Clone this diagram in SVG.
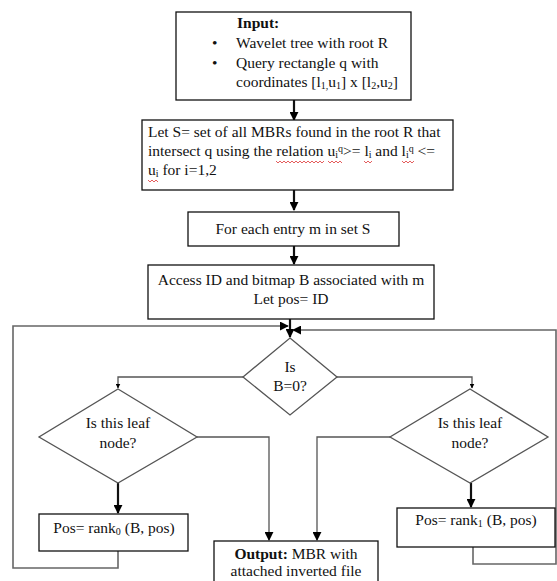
<svg xmlns="http://www.w3.org/2000/svg" width="557" height="581" viewBox="0 0 557 581">
<defs>
<marker id="ah" viewBox="0 0 10 10" refX="9" refY="5" markerWidth="5" markerHeight="5" orient="auto" markerUnits="userSpaceOnUse"><path d="M0,0 L10,5 L0,10 z" fill="#000"/></marker>
<marker id="ahb" viewBox="0 0 10 10" refX="9" refY="5" markerWidth="9" markerHeight="9" orient="auto" markerUnits="userSpaceOnUse"><path d="M0,0 L10,5 L0,10 z" fill="#000"/></marker>
</defs>
<style>
text{font-family:"Liberation Serif","Times New Roman",serif;font-size:15.5px;fill:#111}
.box{fill:#fff;stroke:#111;stroke-width:1.3}
.dia{fill:#fff;stroke:#555;stroke-width:1.3}
.c{fill:none;stroke:#555;stroke-width:1.3}
.main{fill:none;stroke:#111;stroke-width:2.2}
.loop{fill:none;stroke:#666;stroke-width:1.6}
.sq{fill:none;stroke:#d33;stroke-width:0.8}
.sub{font-size:10px}
.m{text-anchor:middle}
</style>
<g id="connectors">
<line class="main" x1="294" y1="100" x2="294" y2="120" marker-end="url(#ahb)"/>
<line class="main" x1="294" y1="190" x2="294" y2="210" marker-end="url(#ahb)"/>
<line class="main" x1="294" y1="245" x2="294" y2="264" marker-end="url(#ahb)"/>
<line class="main" x1="290" y1="319" x2="290" y2="337" marker-end="url(#ahb)"/>
<polyline class="loop" points="118,551 118,568 13,568 13,326 288,326" marker-end="url(#ahb)"/>
<polyline class="loop" points="473,547 473,564 556,564 556,330 293,330" marker-end="url(#ahb)"/>
<polyline class="c" points="243,377 118,377 118,388" marker-end="url(#ah)"/>
<polyline class="c" points="337,377 472,377 472,388" marker-end="url(#ah)"/>
<line class="main" x1="118" y1="483" x2="118" y2="513" stroke-width="1.4" marker-end="url(#ahb)"/>
<line class="main" x1="471" y1="483" x2="471" y2="507" stroke-width="1.4" marker-end="url(#ahb)"/>
<polyline class="c" points="197,437 269,437 269,540" stroke="#333" marker-end="url(#ahb)"/>
<polyline class="c" points="390,437 317,437 317,540" stroke="#333" marker-end="url(#ahb)"/>
</g>
<g id="input">
<rect class="box" x="176" y="12" width="235" height="88"/>
<text x="237" y="28" font-weight="bold">Input:</text>
<text x="212" y="48">•</text>
<text x="236" y="48">Wavelet tree with root R</text>
<text x="212" y="68">•</text>
<text x="236" y="68">Query rectangle q with</text>
<text x="236" y="87">coordinates [l<tspan class="sub" dy="2">1,</tspan><tspan dy="-2">u</tspan><tspan class="sub" dy="2">1</tspan><tspan dy="-2">] x [l</tspan><tspan class="sub" dy="2">2</tspan><tspan dy="-2">,u</tspan><tspan class="sub" dy="2">2</tspan><tspan dy="-2">]</tspan></text>
</g>
<g id="let-s">
<rect class="box" x="142" y="120" width="311" height="70"/>
<text x="148" y="137">Let S= set of all MBRs found in the root R that</text>
<text x="148" y="156">intersect q using the relation  u<tspan class="sub" dy="2">i</tspan><tspan class="sub" dy="-6">q</tspan><tspan dy="4">&gt;= l</tspan><tspan class="sub" dy="2">i</tspan><tspan dy="-2"> and l</tspan><tspan class="sub" dy="2">i</tspan><tspan class="sub" dy="-6">q</tspan><tspan dy="4"> &lt;=</tspan></text>
<text x="148" y="175">u<tspan class="sub" dy="2">i</tspan><tspan dy="-2"> for i=1,2</tspan></text>
<path class="sq" d="M276,161 l2,2 l2,-2 l2,2 l2,-2 l2,2 l2,-2 l2,2 l2,-2 l2,2 l2,-2 l2,2 l2,-2 l2,2 l2,-2 l2,2 l2,-2 l2,2 l2,-2 l2,2 l2,-2 l2,2 l2,-2 l2,2 l2,-2 M328,161 l2,2 l2,-2 l2,2 l2,-2 l2,2 l2,-2 l2,2 M364,161 l2,2 l2,-2 l2,2 l2,-2 M402,161 l2,2 l2,-2 l2,2 l2,-2 l2,2 l2,-2 M148,180 l2,2 l2,-2 l2,2 l2,-2 l2,2"/>
</g>
<g id="for-each">
<rect class="box" x="188" y="212" width="211" height="34"/>
<text class="m" x="293" y="234">For each entry m in set S</text>
</g>
<g id="access">
<rect class="box" x="148" y="265" width="286" height="54"/>
<text class="m" x="291" y="285">Access ID and bitmap B associated with m</text>
<text class="m" x="291" y="304">Let pos= ID</text>
</g>
<g id="is-b0">
<polygon class="dia" points="290,338 337,377 290,415 243,377"/>
<text class="m" x="290" y="372">Is</text>
<text class="m" x="290" y="391">B=0?</text>
</g>
<g id="leaf-left">
<polygon class="dia" points="118,389 197,437 118,483 39,437"/>
<text class="m" x="118" y="428">Is this leaf</text>
<text class="m" x="118" y="448">node?</text>
</g>
<g id="leaf-right">
<polygon class="dia" points="470,389 548,437 470,483 390,437"/>
<text class="m" x="470" y="428">Is this leaf</text>
<text class="m" x="470" y="448">node?</text>
</g>
<g id="rank0">
<rect class="box" x="39" y="514" width="149" height="37"/>
<text class="m" x="114" y="533">Pos= rank<tspan class="sub" dy="2">0</tspan><tspan dy="-2"> (B, pos)</tspan></text>
</g>
<g id="rank1">
<rect class="box" x="397" y="508" width="158" height="39"/>
<text class="m" x="476" y="525">Pos= rank<tspan class="sub" dy="2">1</tspan><tspan dy="-2"> (B, pos)</tspan></text>
</g>
<g id="output">
<rect class="box" x="214" y="541" width="164" height="45"/>
<text class="m" x="296" y="559"><tspan font-weight="bold">Output:</tspan> MBR with</text>
<text class="m" x="296" y="576">attached inverted file</text>
</g>
</svg>
